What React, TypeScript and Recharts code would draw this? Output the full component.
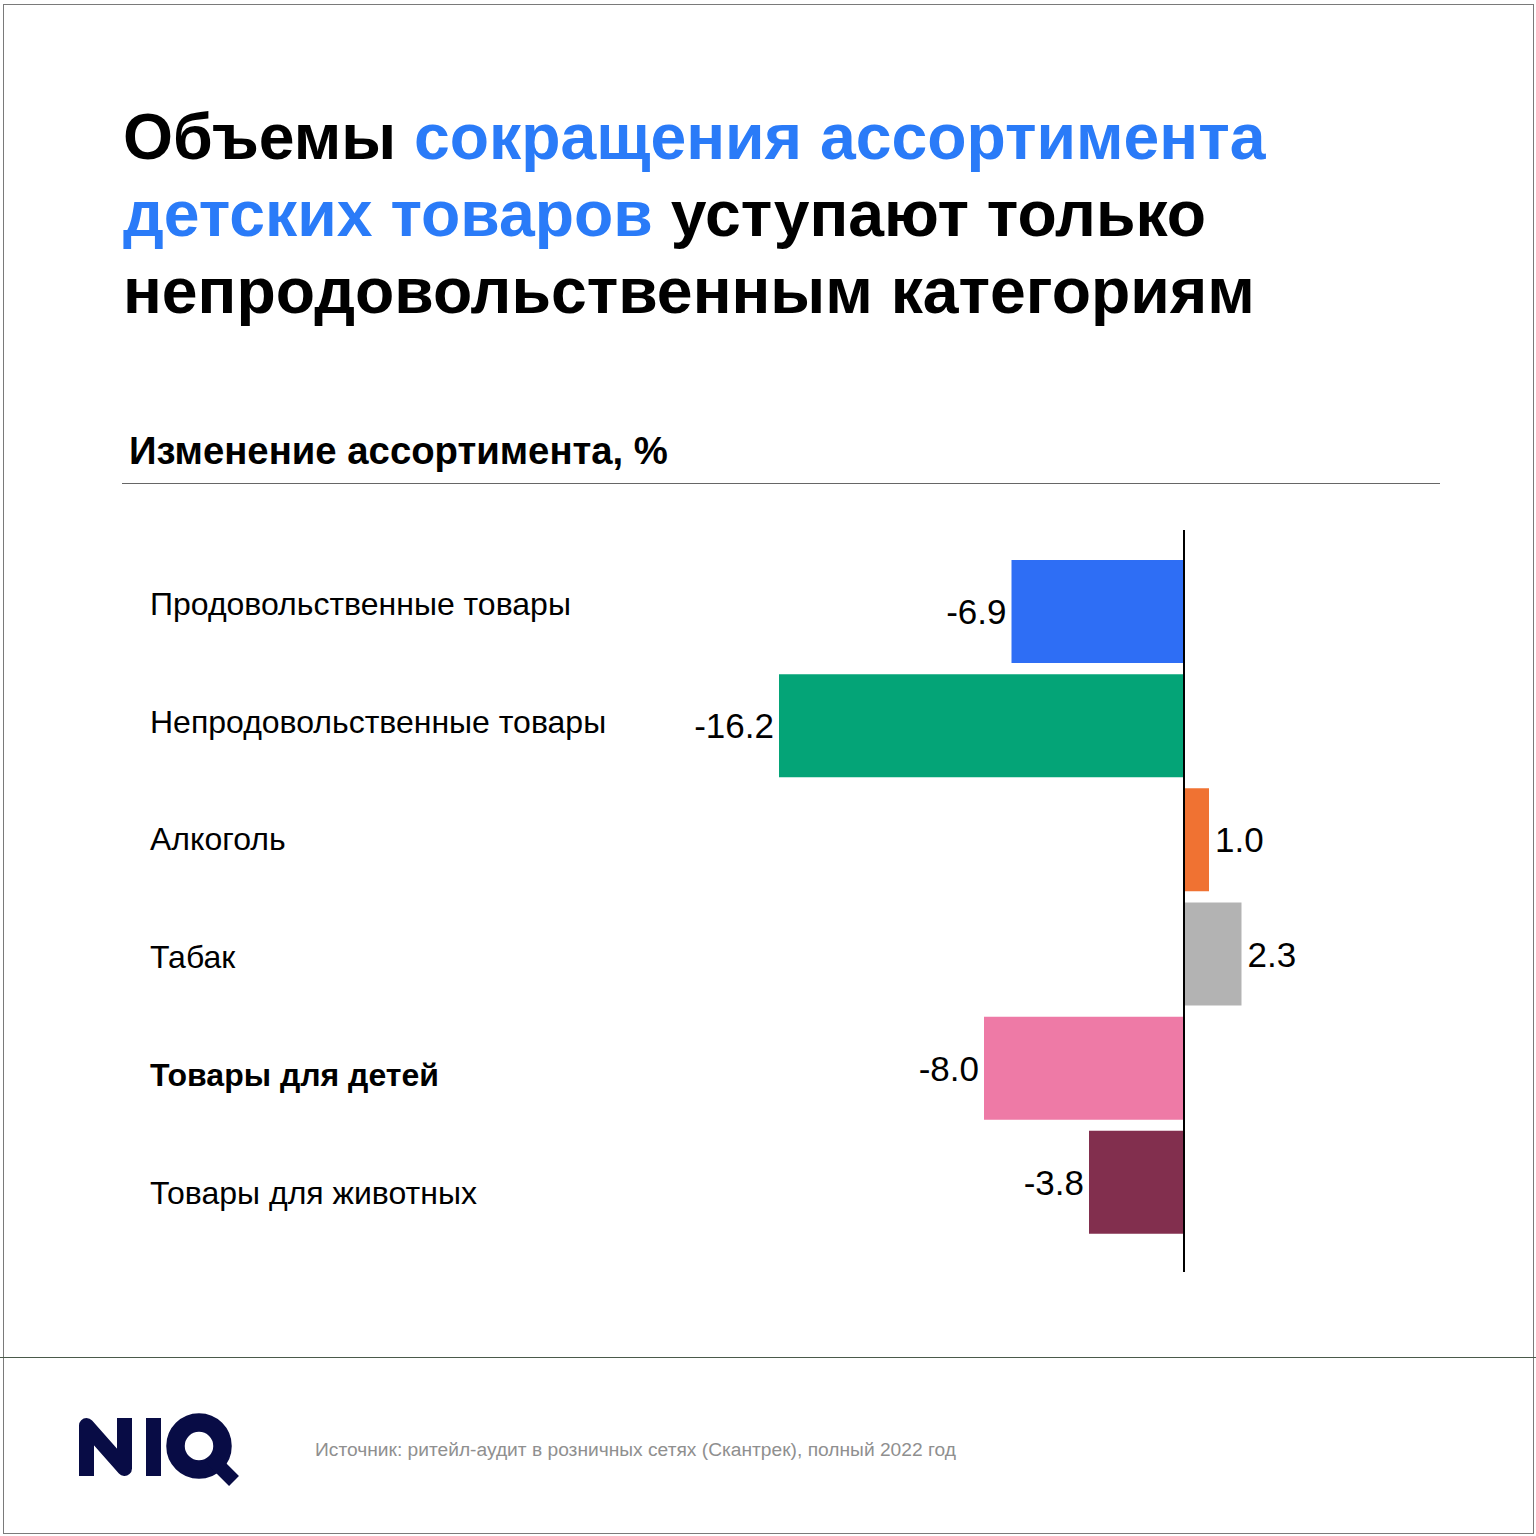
import React from "react";
import { BarChart, Bar, XAxis, YAxis, Cell, LabelList, ReferenceLine } from "recharts";

const categories = [
  "Продовольственные товары",
  "Непродовольственные товары",
  "Алкоголь",
  "Табак",
  "Товары для детей",
  "Товары для животных",
];
const values = [-6.9, -16.2, 1.0, 2.3, -8.0, -3.8];
const colors = ["#2E6EF5", "#04A477", "#F07232", "#B3B3B3", "#EE7AA6", "#822F4E"];
const boldCategory = "Товары для детей";

const data = categories.map((c, i) => ({ name: c, value: values[i] }));

const FONT = "'Liberation Sans', Arial, sans-serif";

const CategoryTick = (props: any) => {
  const { y, payload, index } = props;
  const shift = (index - 2) * 3.6;
  const bold = payload.value === boldCategory;
  return (
    <text
      x={150}
      y={y + shift}
      textAnchor="start"
      dominantBaseline="central"
      fontFamily={FONT}
      fontSize={32}
      fontWeight={bold ? 700 : 400}
      fill="#000"
    >
      {payload.value}
    </text>
  );
};

const ValueLabel = (props: any) => {
  const { x, y, width, height, value } = props;
  const left = Math.min(x, x + width);
  const right = Math.max(x, x + width);
  const cy = y + height / 2;
  const neg = value < 0;
  return (
    <text
      x={neg ? left - 5 : right + 6}
      y={cy}
      textAnchor={neg ? "end" : "start"}
      dominantBaseline="central"
      fontFamily={FONT}
      fontSize={35}
      fill="#000"
    >
      {Number(value).toFixed(1)}
    </text>
  );
};

const Logo = () => (
  <svg
    width={1536}
    height={1536}
    style={{ position: "absolute", left: 0, top: 0, pointerEvents: "none" }}
  >
    <g fill="none" stroke="#080C45">
      <polyline
        points="86.5,1476 86.5,1425.5 124.5,1468.5 124.5,1418"
        strokeWidth={15}
        strokeLinejoin="round"
        strokeLinecap="butt"
      />
      <line x1={153.5} y1={1418} x2={153.5} y2={1476} strokeWidth={15} />
      <circle cx={199} cy={1446} r={23.5} strokeWidth={18.5} />
      <line x1={212} y1={1459} x2={234} y2={1481} strokeWidth={14} />
    </g>
  </svg>
);

export default function App() {
  return (
    <div
      style={{
        position: "absolute",
        left: 0,
        top: 0,
        width: 1536,
        height: 1536,
        background: "#fff",
        fontFamily: FONT,
        overflow: "hidden",
      }}
    >
      <div
        style={{
          position: "absolute",
          left: 3,
          top: 4,
          width: 1531,
          height: 1530,
          border: "1.5px solid #7a7a7a",
          boxSizing: "border-box",
        }}
      />
      <div
        style={{
          position: "absolute",
          left: 123,
          top: 99,
          fontSize: 64.3,
          fontWeight: 700,
          lineHeight: "77px",
          color: "#000",
          width: 1350,
        }}
      >
        Объемы <span style={{ color: "#2A7BF8" }}>сокращения ассортимента</span>
        <br />
        <span style={{ color: "#2A7BF8" }}>детских товаров</span> уступают только
        <br />
        непродовольственным категориям
      </div>
      <div
        style={{
          position: "absolute",
          left: 129,
          top: 429,
          fontSize: 38.3,
          fontWeight: 700,
          color: "#000",
          lineHeight: "44px",
        }}
      >
        Изменение ассортимента, %
      </div>
      <div
        style={{
          position: "absolute",
          left: 122,
          top: 483,
          width: 1318,
          height: 0,
          borderTop: "1.5px solid #666",
        }}
      />
      <div style={{ position: "absolute", left: 0, top: 500 }}>
        <BarChart
          width={1536}
          height={800}
          data={data}
          layout="vertical"
          margin={{ top: 30, right: 102, bottom: 28, left: 0 }}
          barSize={103}
        >
          <XAxis type="number" domain={[-20, 10]} hide />
          <YAxis
            type="category"
            dataKey="name"
            width={684}
            axisLine={false}
            tickLine={false}
            tick={<CategoryTick />}
            padding={{ top: 24, bottom: 33 }}
            interval={0}
          />
          <Bar dataKey="value" isAnimationActive={false}>
            {data.map((d, i) => (
              <Cell key={d.name} fill={colors[i]} />
            ))}
            <LabelList dataKey="value" content={<ValueLabel />} />
          </Bar>
          <ReferenceLine x={0} stroke="#000" strokeWidth={2} />
        </BarChart>
      </div>
      <div
        style={{
          position: "absolute",
          left: 0,
          top: 1357,
          width: 1536,
          height: 0,
          borderTop: "1.5px solid #4a5a4a",
        }}
      />
      <Logo />
      <div
        style={{
          position: "absolute",
          left: 315,
          top: 1438,
          fontSize: 19.2,
          color: "#8f8f8f",
          lineHeight: "24px",
        }}
      >
        Источник: ритейл-аудит в розничных сетях (Скантрек), полный 2022 год
      </div>
    </div>
  );
}
